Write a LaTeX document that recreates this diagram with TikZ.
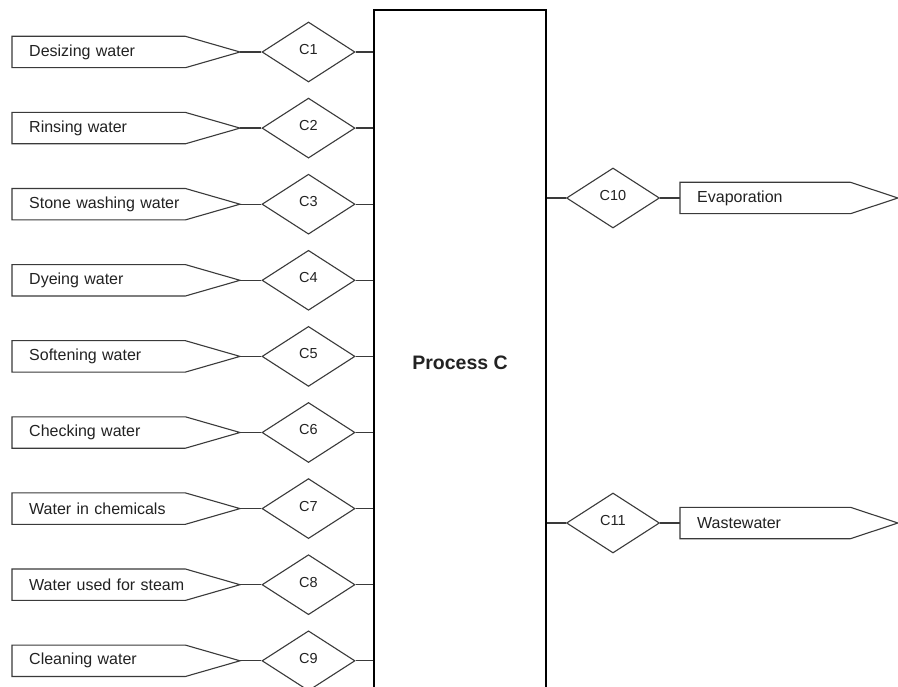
\documentclass[tikz,border=0pt]{standalone}
\usepackage{fontspec}
\setmainfont{Liberation Sans}
\usetikzlibrary{shapes.geometric}
\definecolor{ink}{HTML}{222222}
\definecolor{edge}{HTML}{3A3A3A}
\begin{document}
\begin{tikzpicture}[x=1pt,y=-1pt,
  flagbody/.style={rectangle, minimum height=31, inner sep=0, align=left,
    font=\fontsize{16}{18}\selectfont, text=ink},
  flagline/.style={draw=edge, line width=1.1pt},
  diamondbox/.style={diamond, draw=edge, line width=1.1pt, minimum width=93,
    minimum height=60, inner sep=0},
  dlabel/.style={font=\fontsize{14.5}{16}\selectfont, text=ink},
  link/.style={draw=edge, line width=1.2pt},
  procbox/.style={rectangle, draw=black, line width=1.6pt, minimum width=172,
    minimum height=706, inner sep=0, font=\bfseries\fontsize{19.5}{22}\selectfont, text=ink}]
\clip (0,0) rectangle (898,687);
\fill[white] (0,0) rectangle (898,687);
% process box
\node[procbox] (process) at (460,363) {Process C};
% left inputs
\foreach \i/\txt in {1/Desizing water,2/Rinsing water,3/Stone washing water,4/Dyeing water,
  5/Softening water,6/Checking water,7/Water in chemicals,8/Water used for steam,9/Cleaning water}{
  \pgfmathsetmacro{\yy}{52+(\i-1)*76.1}
  \node[flagbody, anchor=west, text width=173, minimum width=173] (f\i) at (12,\yy) {\hspace*{17pt}\txt};
  \coordinate (t\i) at (240,\yy);
  \draw[flagline] (f\i.north west) -- (f\i.north east) -- (t\i) -- (f\i.south east) -- (f\i.south west) -- cycle;
  \node[diamondbox, label={[dlabel, yshift=2.5]center:C\i}] (d\i) at (308.5,\yy) {};
  \draw[link] (t\i) -- (d\i.west);
  \draw[link] (d\i.east) -- (process.west |- d\i.east);
}
% right outputs
\foreach \i/\yy/\txt in {10/198/Evaporation,11/523/Wastewater}{
  \node[diamondbox, label={[dlabel, yshift=2.5]center:C\i}] (d\i) at (613,\yy) {};
  \node[flagbody, anchor=west, text width=170, minimum width=170] (f\i) at (680,\yy) {\hspace*{17pt}\txt};
  \coordinate (t\i) at (898,\yy);
  \draw[flagline] (f\i.north west) -- (f\i.north east) -- (t\i) -- (f\i.south east) -- (f\i.south west) -- cycle;
  \draw[link] (process.east |- d\i.west) -- (d\i.west);
  \draw[link] (d\i.east) -- (f\i.west);
}
\end{tikzpicture}
\end{document}
